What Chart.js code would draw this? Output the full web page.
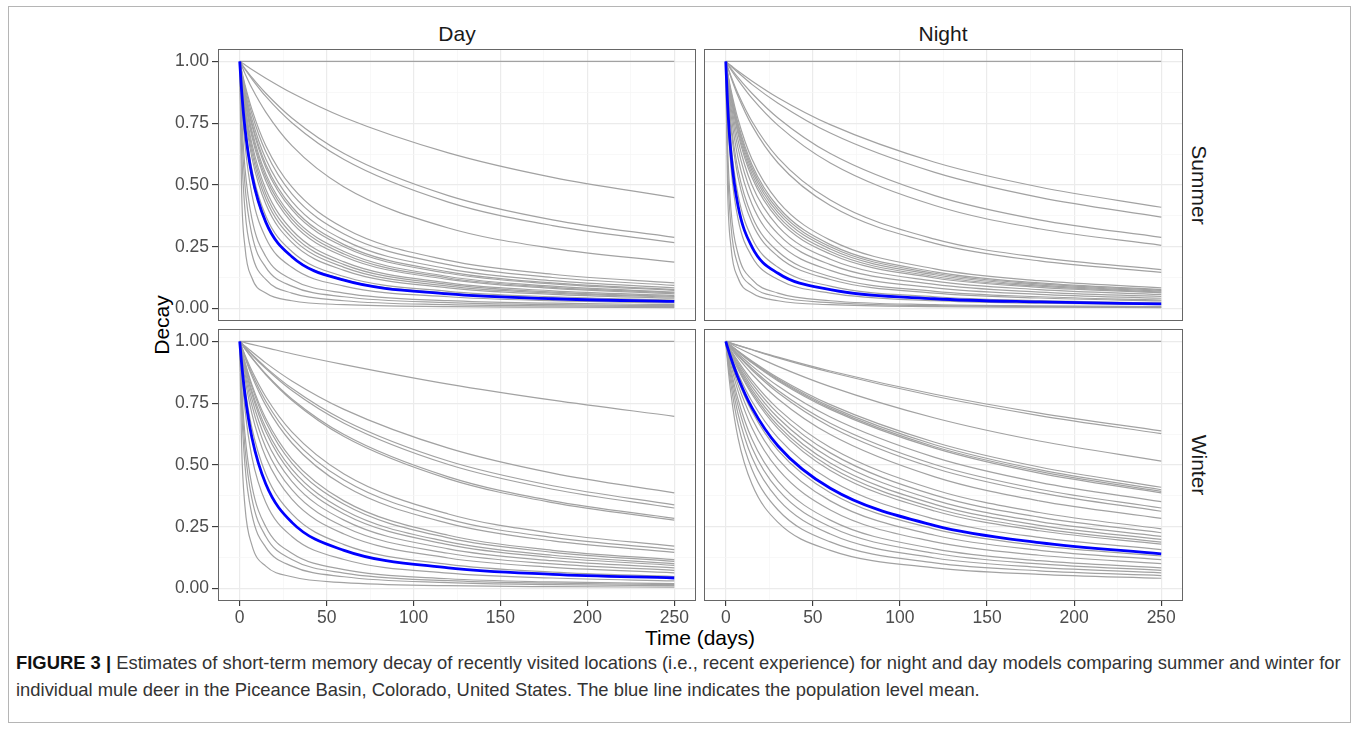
<!DOCTYPE html>
<html>
<head>
<meta charset="utf-8">
<title>Memory decay</title>
<script src="https://cdn.jsdelivr.net/npm/chart.js@4.4.0/dist/chart.umd.min.js"></script>
<style>
  body { margin: 0; background: #fff; width: 1358px; height: 740px; position: relative; overflow: hidden;
         font-family: "Liberation Sans", Arial, sans-serif; }
  .frame { position: absolute; left: 8px; top: 6px; width: 1341px; height: 715px; border: 1px solid #b5b5b5; }
  canvas { position: absolute; }
  .lbl { position: absolute; white-space: nowrap; color: #1a1a1a; font-size: 21px; line-height: 1; transform: translate(-50%, -50%); }
  .rot-r { transform: translate(-50%, -50%) rotate(90deg); }
  .rot-l { transform: translate(-50%, -50%) rotate(-90deg); color: #000; }
  .cap { position: absolute; left: 16px; white-space: nowrap; font-size: 18.4px; line-height: 1; color: #333; }
  .cap b { color: #111; }
</style>
</head>
<body>
<div class="frame"></div>

<div class="lbl" style="left:457px;top:33px">Day</div>
<div class="lbl" style="left:943px;top:33px">Night</div>
<div class="lbl rot-r" style="left:1199px;top:185px">Summer</div>
<div class="lbl rot-r" style="left:1199px;top:465px">Winter</div>
<div class="lbl rot-l" style="left:161px;top:325px">Decay</div>
<div class="lbl" style="left:700px;top:637px;color:#000">Time (days)</div>

<div class="cap" style="top:654px"><b>FIGURE 3 |</b> Estimates of short-term memory decay of recently visited locations (i.e., recent experience) for night and day models comparing summer and winter for</div>
<div class="cap" style="top:681px">individual mule deer in the Piceance Basin, Colorado, United States. The blue line indicates the population level mean.</div>

<script>
const days = [0, 1, 3, 7, 15, 30, 60, 120, 180, 250];
const xTicks = [0, 50, 100, 150, 200, 250];
const xGrid = [0, 25, 50, 75, 100, 125, 150, 175, 200, 225, 250];
const yTicks = [0, 0.25, 0.5, 0.75, 1];
const yGrid = [0, 0.125, 0.25, 0.375, 0.5, 0.625, 0.75, 0.875, 1];

// Summer / Day
const summerDay = [
  [1, 1, 1, 1, 1, 1, 1, 1, 1, 1],
  [1, .995, .986, .967, .932, .872, .773, .63, .531, .449],
  [1, .99, .971, .935, .871, .771, .627, .457, .359, .288],
  [1, .989, .968, .929, .858, .752, .603, .431, .336, .267],
  [1, .983, .951, .892, .795, .659, .492, .326, .244, .188],
  [1, .967, .906, .806, .659, .492, .326, .195, .139, .104],
  [1, .963, .897, .788, .634, .464, .302, .178, .126, .094],
  [1, .958, .885, .767, .605, .434, .277, .161, .113, .084],
  [1, .955, .875, .75, .583, .412, .259, .149, .104, .077],
  [1, .952, .87, .741, .571, .4, .25, .143, .1, .074],
  [1, .947, .857, .72, .545, .375, .231, .13, .091, .067],
  [1, .944, .85, .708, .531, .362, .221, .124, .086, .064],
  [1, .941, .842, .696, .516, .348, .211, .118, .082, .06],
  [1, .933, .824, .667, .483, .318, .189, .104, .072, .053],
  [1, .929, .813, .65, .464, .302, .178, .098, .067, .049],
  [1, .923, .8, .632, .444, .286, .167, .091, .063, .046],
  [1, .917, .786, .611, .423, .268, .155, .084, .058, .042],
  [1, .9, .75, .563, .375, .231, .13, .07, .048, .035],
  [1, .889, .727, .533, .348, .211, .118, .063, .043, .031],
  [1, .857, .667, .462, .286, .167, .091, .048, .032, .023],
  [1, .8, .571, .364, .211, .118, .063, .032, .022, .016],
  [1, .75, .5, .3, .167, .091, .048, .024, .016, .012],
  [1, .667, .4, .222, .118, .063, .032, .016, .011, .008],
  [1, .5, .25, .125, .063, .032, .016, .008, .006, .004]
];
const summerDayMean = [1, .89, .73, .54, .35, .21, .115, .06, .04, .029];

// Summer / Night
const summerNight = [
  [1, 1, 1, 1, 1, 1, 1, 1, 1, 1],
  [1, .994, .983, .961, .921, .853, .744, .592, .492, .41],
  [1, .993, .98, .955, .907, .831, .71, .551, .45, .37],
  [1, .99, .971, .935, .871, .771, .627, .457, .359, .288],
  [1, .989, .966, .925, .851, .741, .589, .417, .323, .256],
  [1, .979, .94, .87, .758, .61, .439, .281, .207, .158],
  [1, .977, .935, .86, .741, .589, .417, .264, .193, .147],
  [1, .958, .885, .767, .605, .434, .277, .161, .113, .084],
  [1, .955, .875, .75, .583, .412, .259, .149, .104, .077],
  [1, .952, .87, .741, .571, .4, .25, .143, .1, .074],
  [1, .95, .864, .731, .559, .388, .241, .137, .095, .071],
  [1, .947, .857, .72, .545, .375, .231, .13, .091, .067],
  [1, .944, .85, .708, .531, .362, .221, .124, .086, .064],
  [1, .938, .833, .682, .5, .333, .2, .111, .077, .057],
  [1, .929, .813, .65, .464, .302, .178, .098, .067, .049],
  [1, .917, .786, .611, .423, .268, .155, .084, .058, .042],
  [1, .9, .75, .563, .375, .231, .13, .07, .048, .035],
  [1, .889, .727, .533, .348, .211, .118, .063, .043, .031],
  [1, .857, .667, .462, .286, .167, .091, .048, .032, .023],
  [1, .8, .571, .364, .211, .118, .063, .032, .022, .016],
  [1, .667, .4, .222, .118, .063, .032, .016, .011, .008],
  [1, .6, .333, .176, .091, .048, .024, .012, .008, .006],
  [1, .5, .25, .125, .063, .032, .016, .008, .006, .004]
];
const summerNightMean = [1, .833, .625, .417, .25, .143, .077, .04, .027, .019];

// Winter / Day
const winterDay = [
  [1, 1, 1, 1, 1, 1, 1, 1, 1, 1],
  [1, .998, .995, .988, .975, .95, .906, .827, .762, .697],
  [1, .994, .981, .958, .913, .84, .725, .568, .467, .387],
  [1, .992, .977, .948, .895, .81, .681, .516, .416, .339],
  [1, .992, .976, .945, .89, .801, .669, .502, .402, .326],
  [1, .99, .971, .934, .868, .767, .623, .452, .355, .284],
  [1, .99, .97, .932, .865, .762, .615, .444, .348, .277],
  [1, .981, .945, .881, .776, .634, .464, .302, .224, .172],
  [1, .979, .94, .87, .758, .61, .439, .281, .207, .158],
  [1, .977, .935, .86, .741, .589, .417, .264, .193, .147],
  [1, .971, .917, .825, .688, .524, .355, .216, .155, .117],
  [1, .969, .912, .816, .674, .508, .341, .205, .147, .11],
  [1, .966, .903, .8, .651, .483, .318, .189, .135, .101],
  [1, .963, .897, .788, .634, .464, .302, .178, .126, .094],
  [1, .958, .885, .767, .605, .434, .277, .161, .113, .084],
  [1, .952, .87, .741, .571, .4, .25, .143, .1, .074],
  [1, .944, .85, .708, .531, .362, .221, .124, .086, .064],
  [1, .929, .813, .65, .464, .302, .178, .098, .067, .049],
  [1, .889, .727, .533, .348, .211, .118, .063, .043, .031],
  [1, .833, .625, .417, .25, .143, .077, .04, .027, .02],
  [1, .8, .571, .364, .211, .118, .063, .032, .022, .016],
  [1, .75, .5, .3, .167, .091, .048, .024, .016, .012],
  [1, .6, .333, .176, .091, .048, .024, .012, .008, .006]
];
const winterDayMean = [1, .917, .786, .611, .423, .268, .155, .084, .058, .043];

// Winter / Night
const winterNight = [
  [1, 1, 1, 1, 1, 1, 1, 1, 1, 1],
  [1, .998, .993, .984, .967, .936, .88, .786, .71, .638],
  [1, .998, .993, .984, .966, .933, .875, .778, .7, .627],
  [1, .996, .989, .974, .947, .899, .817, .69, .597, .516],
  [1, .994, .983, .961, .921, .853, .744, .592, .492, .41],
  [1, .994, .982, .96, .918, .848, .736, .582, .481, .4],
  [1, .994, .982, .959, .915, .844, .73, .574, .474, .393],
  [1, .994, .981, .958, .913, .84, .725, .568, .467, .387],
  [1, .993, .978, .951, .901, .819, .694, .531, .43, .352],
  [1, .992, .976, .945, .89, .801, .669, .502, .402, .326],
  [1, .991, .974, .942, .884, .792, .655, .487, .388, .313],
  [1, .99, .971, .934, .868, .767, .623, .452, .355, .284],
  [1, .988, .964, .92, .842, .727, .571, .4, .308, .242],
  [1, .986, .961, .913, .83, .709, .549, .378, .289, .226],
  [1, .985, .957, .905, .817, .691, .528, .358, .271, .211],
  [1, .984, .954, .899, .805, .674, .508, .341, .256, .199],
  [1, .983, .951, .892, .795, .659, .492, .326, .244, .188],
  [1, .982, .948, .887, .786, .647, .478, .314, .234, .18],
  [1, .979, .94, .87, .758, .61, .439, .281, .207, .158],
  [1, .974, .927, .844, .717, .559, .388, .241, .174, .132],
  [1, .971, .917, .825, .688, .524, .355, .216, .155, .117],
  [1, .966, .903, .8, .651, .483, .318, .189, .135, .101],
  [1, .958, .885, .767, .605, .434, .277, .161, .113, .084],
  [1, .952, .87, .741, .571, .4, .25, .143, .1, .074],
  [1, .944, .85, .708, .531, .362, .221, .124, .086, .064],
  [1, .933, .824, .667, .483, .318, .189, .104, .072, .053],
  [1, .917, .786, .611, .423, .268, .155, .084, .058, .042]
];
const winterNightMean = [1, .976, .932, .854, .732, .577, .406, .255, .186, .141];

const FONT = '"Liberation Sans", Arial, sans-serif';
const PAD = 4;      // canvas margin round the panel
const YW = 50;      // room for y tick labels
const XH = 28;      // room for x tick labels

const panels = [
  { curves: summerDay,   mean: summerDayMean,   left: 218, top: 49,  w: 478, h: 272, showX: false, showY: true },
  { curves: summerNight, mean: summerNightMean, left: 704, top: 49,  w: 479, h: 272, showX: false, showY: false },
  { curves: winterDay,   mean: winterDayMean,   left: 218, top: 329, w: 478, h: 272, showX: true,  showY: true },
  { curves: winterNight, mean: winterNightMean, left: 704, top: 329, w: 479, h: 272, showX: true,  showY: false }
];

const panelBorder = {
  id: 'panelBorder',
  afterDraw(chart) {
    const a = chart.chartArea, ctx = chart.ctx;
    ctx.save();
    ctx.strokeStyle = '#666';
    ctx.lineWidth = 1;
    ctx.strokeRect(Math.round(a.left) + 0.5, Math.round(a.top) + 0.5,
                   Math.round(a.right - a.left) - 1, Math.round(a.bottom - a.top) - 1);
    ctx.restore();
  }
};

function toPoints(vals) {
  return days.map((d, i) => ({ x: d, y: vals[i] }));
}

function makeChart(p) {
  const cv = document.createElement('canvas');
  const W = p.w + (p.showY ? YW : 0) + 2 * PAD;
  const H = p.h + (p.showX ? XH : 0) + 2 * PAD;
  cv.width = W; cv.height = H;
  cv.style.width = W + 'px'; cv.style.height = H + 'px';
  cv.style.left = (p.left - (p.showY ? YW : 0) - PAD) + 'px';
  cv.style.top = (p.top - PAD) + 'px';
  document.body.appendChild(cv);

  const datasets = [{
    data: toPoints(p.mean), borderColor: '#0000ff', borderWidth: 2.8,
    pointRadius: 0, cubicInterpolationMode: 'monotone', order: 0
  }];
  p.curves.forEach(c => datasets.push({
    data: toPoints(c), borderColor: '#a2a2a2', borderWidth: 1.2,
    pointRadius: 0, cubicInterpolationMode: 'monotone', order: 1
  }));

  new Chart(cv, {
    type: 'line',
    data: { datasets },
    options: {
      responsive: false,
      animation: false,
      events: [],
      layout: { padding: PAD },
      plugins: { legend: { display: false }, tooltip: { enabled: false } },
      scales: {
        x: {
          type: 'linear', min: -12.5, max: 262.5,
          afterBuildTicks: s => { s.ticks = xGrid.map(v => ({ value: v })); },
          afterFit: s => { s.height = p.showX ? XH : 0; s.paddingLeft = 0; s.paddingRight = 0; },
          ticks: {
            display: p.showX, autoSkip: false, maxRotation: 0, padding: 2,
            color: '#4d4d4d', font: { size: 17.5, family: FONT },
            callback: v => xTicks.includes(v) ? String(v) : ''
          },
          grid: {
            color: c => xTicks.includes(c.tick.value) ? '#ebebeb' : '#f5f5f5',
            lineWidth: c => xTicks.includes(c.tick.value) ? 1.2 : 0.7,
            drawTicks: p.showX, tickLength: 5, tickWidth: 1.1,
            tickColor: c => xTicks.includes(c.tick.value) ? '#333' : 'rgba(0,0,0,0)'
          },
          border: { display: false }
        },
        y: {
          type: 'linear', min: -0.05, max: 1.05,
          afterBuildTicks: s => { s.ticks = yGrid.map(v => ({ value: v })); },
          afterFit: s => { s.width = p.showY ? YW : 0; s.paddingTop = 0; s.paddingBottom = 0; },
          ticks: {
            display: p.showY, autoSkip: false, padding: 3,
            color: '#4d4d4d', font: { size: 17.5, family: FONT },
            callback: v => yTicks.includes(v) ? v.toFixed(2) : ''
          },
          grid: {
            color: c => yTicks.includes(c.tick.value) ? '#ebebeb' : '#f5f5f5',
            lineWidth: c => yTicks.includes(c.tick.value) ? 1.2 : 0.7,
            drawTicks: p.showY, tickLength: 6, tickWidth: 1.1,
            tickColor: c => yTicks.includes(c.tick.value) ? '#333' : 'rgba(0,0,0,0)'
          },
          border: { display: false }
        }
      }
    },
    plugins: [panelBorder]
  });
}

panels.forEach(makeChart);
</script>
</body>
</html>
